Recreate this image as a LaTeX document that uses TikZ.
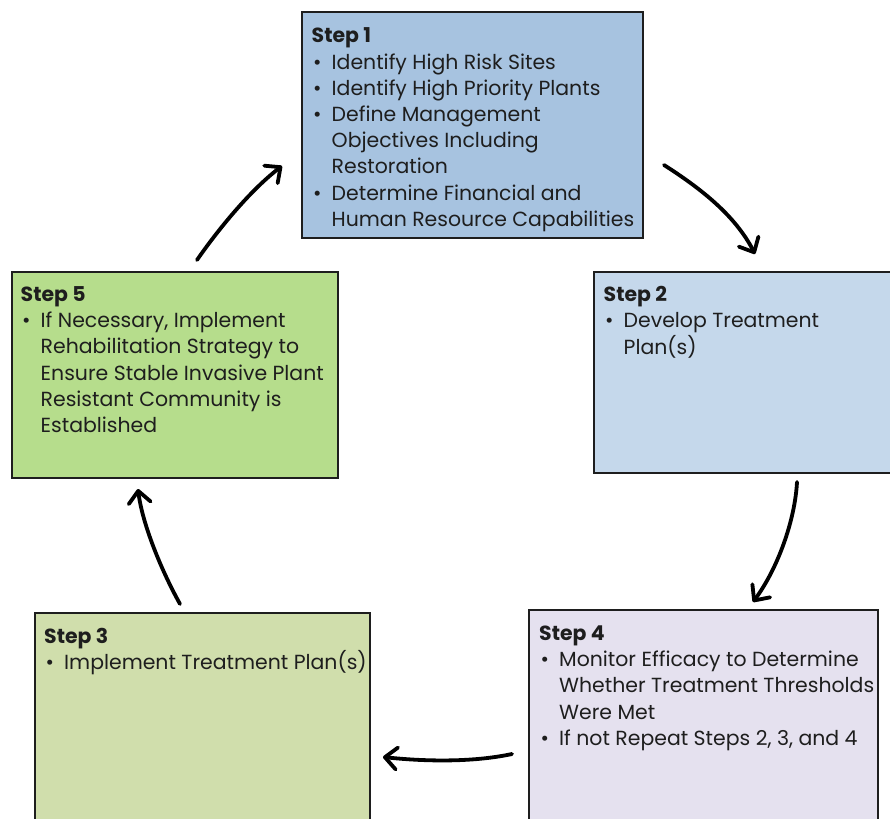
\documentclass[tikz,border=0pt]{standalone}
\usepackage{fontspec}
\setmainfont{Poppins}
\usetikzlibrary{arrows.meta}
\definecolor{cone}{RGB}{167,195,224}
\definecolor{ctwo}{RGB}{197,216,235}
\definecolor{cthree}{RGB}{208,222,172}
\definecolor{cfour}{RGB}{229,225,239}
\definecolor{cfive}{RGB}{182,221,140}
\definecolor{ink}{RGB}{30,30,30}
\newlength\reflen
\newcommand\bul{\makebox[20pt][l]{\hspace{1.5pt}\textbullet}}
\newcommand\nobul{\makebox[20pt][l]{}}
\newcommand\steptitle[1]{\multicolumn{2}{@{}l@{}}{\bfseries #1}}
\begin{document}
\settowidth\reflen{\fontsize{10pt}{12pt}\selectfont Human Resource Capabilities}
\pgfmathsetmacro\fsz{10*302.6/\reflen}
\begin{tikzpicture}[x=1pt,y=-1pt,
  stepbox/.style={draw=ink,line width=1.6pt,anchor=north west,inner sep=0pt,outer sep=0pt},
  steptext/.style={anchor=base west,inner sep=0pt,text=ink,align=left,
    font=\fontsize{\fsz pt}{26.2pt}\selectfont},
  conn/.style={line width=3.8pt,line cap=round,draw=black,
    -{Straight Barb[length=12pt,width=22pt,round]}}]
\useasboundingbox (0,0) rectangle (890,818);
\clip (0,0) rectangle (890,818);

\node[stepbox,fill=cone,minimum width=341pt,minimum height=226pt] (s1) at (302,12) {};
\node[stepbox,fill=ctwo,minimum width=305pt,minimum height=201pt] (s2) at (594,272) {};
\node[stepbox,fill=cfive,minimum width=326pt,minimum height=206pt] (s5) at (12,272) {};
\node[stepbox,fill=cthree,minimum width=335pt,minimum height=220pt] (s3) at (35,613) {};
\node[stepbox,fill=cfour,minimum width=349pt,minimum height=222pt] (s4) at (529,610) {};

\node[steptext] (t1) at (311.5,43) {\begin{tabular}[t]{@{}l@{}l@{}}
\steptitle{Step 1}\\
\bul & Identify High Risk Sites\\
\bul & Identify High Priority Plants\\
\bul & Define Management\\
\nobul & Objectives Including\\
\nobul & Restoration\\
\bul & Determine Financial and\\
\nobul & Human Resource Capabilities
\end{tabular}};

\node[steptext] (t2) at (603.5,301.5) {\begin{tabular}[t]{@{}l@{}l@{}}
\steptitle{Step 2}\\
\bul & Develop Treatment\\
\nobul & Plan(s)
\end{tabular}};

\node[steptext] (t5) at (20.5,301.5) {\begin{tabular}[t]{@{}l@{}l@{}}
\steptitle{Step 5}\\
\bul & If Necessary, Implement\\
\nobul & Rehabilitation Strategy to\\
\nobul & Ensure Stable Invasive Plant\\
\nobul & Resistant Community is\\
\nobul & Established
\end{tabular}};

\node[steptext] (t3) at (44,643) {\begin{tabular}[t]{@{}l@{}l@{}}
\steptitle{Step 3}\\
\bul & Implement Treatment Plan(s)
\end{tabular}};

\node[steptext] (t4) at (539,640.5) {\begin{tabular}[t]{@{}l@{}l@{}}
\steptitle{Step 4}\\
\bul & Monitor Efficacy to Determine\\
\nobul & Whether Treatment Thresholds\\
\nobul & Were Met\\
\bul & If not Repeat Steps 2, 3, and 4
\end{tabular}};

\coordinate (a1s) at (664,165);
\coordinate (a1e) at (755,254);
\coordinate (a2s) at (797,482);
\coordinate (a2e) at (753,602);
\coordinate (a3s) at (512,754);
\coordinate (a3e) at (383,757);
\coordinate (a4s) at (180,604);
\coordinate (a4e) at (138,489);
\coordinate (a5s) at (197,260);
\coordinate (a5e) at (282,166);

\draw[conn] (a1s) .. controls (700,188) and (735,215) .. (a1e);
\draw[conn] (a2s) .. controls (795,520) and (778,568) .. (a2e);
\draw[conn] (a3s) .. controls (470,763) and (420,761) .. (a3e);
\draw[conn] (a4s) .. controls (160,568) and (142,522) .. (a4e);
\draw[conn] (a5s) .. controls (215,234) and (248,192) .. (a5e);
\end{tikzpicture}
\end{document}
